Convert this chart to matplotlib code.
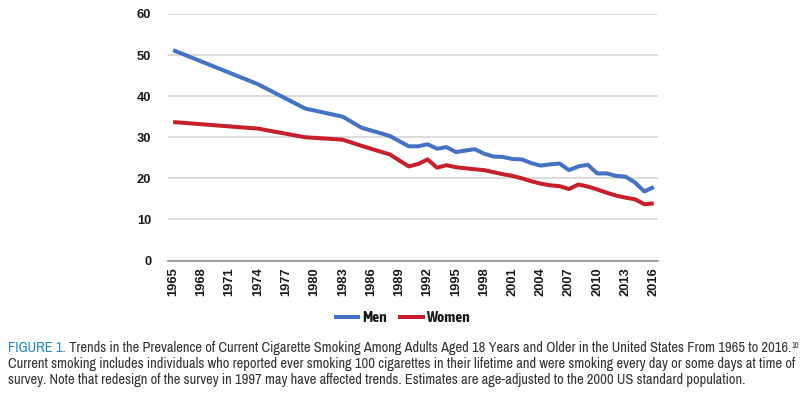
import matplotlib
matplotlib.use("Agg")
import matplotlib.pyplot as plt

# survey years (no data for the gaps, lines just connect the points)
years = [1965, 1974, 1979, 1983, 1985, 1987, 1988, 1990, 1991, 1992, 1993, 1994,
         1995, 1997, 1998, 1999, 2000, 2001, 2002, 2003, 2004, 2005, 2006, 2007,
         2008, 2009, 2010, 2011, 2012, 2013, 2014, 2015, 2016]
men = [51.2, 42.9, 37.0, 35.0, 32.3, 31.0, 30.3, 27.8, 27.8, 28.3, 27.2, 27.6,
       26.4, 27.1, 26.0, 25.3, 25.2, 24.7, 24.6, 23.7, 23.1, 23.4, 23.6, 22.0,
       22.9, 23.3, 21.2, 21.2, 20.6, 20.4, 19.0, 16.8, 17.9]
women = [33.7, 32.1, 30.0, 29.4, 27.9, 26.5, 25.8, 22.9, 23.5, 24.6, 22.6, 23.2,
         22.7, 22.2, 22.0, 21.5, 21.0, 20.6, 20.0, 19.3, 18.7, 18.3, 18.1, 17.4,
         18.5, 18.0, 17.3, 16.5, 15.8, 15.3, 14.9, 13.7, 13.9]
tick_years = list(range(1965, 2017, 3))
yticks = [0, 10, 20, 30, 40, 50, 60]

caption_head = "FIGURE 1."
caption_l1 = " Trends in the Prevalence of Current Cigarette Smoking Among Adults Aged 18 Years and Older in the United States From 1965 to 2016."
caption_l2 = "Current smoking includes individuals who reported ever smoking 100 cigarettes in their lifetime and were smoking every day or some days at time of"
caption_l3 = "survey. Note that redesign of the survey in 1997 may have affected trends. Estimates are age-adjusted to the 2000 US standard population."

plt.rcParams['font.family'] = ['Liberation Sans', 'DejaVu Sans']

fig = plt.figure(figsize=(8.06, 3.99), dpi=100)
W, H = 806, 399
ax = fig.add_axes([168 / W, 1 - 260.5 / H, (658 - 168) / W, (260.5 - 14) / H])

ax.plot(years, men, color='#4472C4', lw=2.9, label='Men', solid_capstyle='butt')
ax.plot(years, women, color='#C8202A', lw=2.9, label='Women', solid_capstyle='butt')

ax.set_xlim(1964.45, 2016.45)
ax.set_ylim(0, 60)
ax.set_yticks(yticks)
ax.set_xticks(tick_years)
ax.set_xticklabels([str(y) for y in tick_years], rotation=90, fontweight='bold', fontsize=9.3)
ax.set_yticklabels([str(v) for v in yticks], fontweight='bold', fontsize=9.3)
ax.tick_params(axis='both', length=0, colors='#1a1a1a')
ax.tick_params(axis='x', pad=5)
ax.tick_params(axis='y', pad=12)
ax.grid(axis='y', color='#D9D9D9', lw=1.3)
ax.set_axisbelow(True)
for s in ['top', 'right', 'left']:
    ax.spines[s].set_visible(False)
ax.spines['bottom'].set_color('#999999')
ax.spines['bottom'].set_linewidth(1.3)

leg = fig.legend(loc='center', bbox_to_anchor=(402 / W, 1 - 318 / H), ncol=2, frameon=False,
                 handlelength=1.75, handletextpad=0.1, columnspacing=0.75,
                 prop={'family': ['Asap Condensed', 'Liberation Sans'], 'weight': 'bold', 'size': 11})
for t in leg.get_texts():
    t.set_color('#1a1a1a')

cap_font = ['Archivo Narrow', 'Liberation Sans']
fs = 10.4
head = fig.text(8 / W, 1 - 352 / H, caption_head, family=cap_font, fontsize=fs,
                color='#2586C8', va='baseline')
rest = ax.annotate(caption_l1, xy=(1, 0), xycoords=head, va='bottom', ha='left',
                   family=cap_font, fontsize=fs, color='#333333')
ax.annotate("10", xy=(1, 1), xycoords=rest, va='top', ha='left',
            family=cap_font, fontsize=6, color='#333333')
fig.text(8 / W, 1 - 368 / H, caption_l2, family=cap_font, fontsize=fs,
         color='#333333', va='baseline')
fig.text(8 / W, 1 - 384 / H, caption_l3, family=cap_font, fontsize=fs,
         color='#333333', va='baseline')

fig.savefig('out.png', dpi=100)
